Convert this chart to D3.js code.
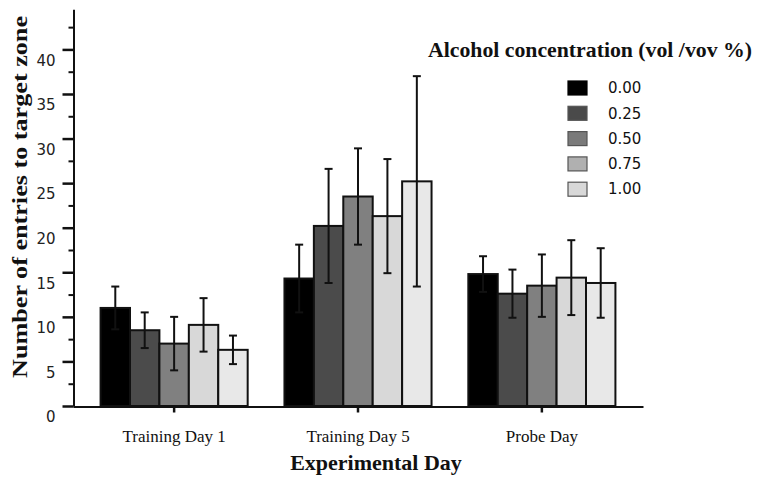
<!DOCTYPE html>
<html>
<head>
<meta charset="utf-8">
<script src="https://cdn.jsdelivr.net/npm/d3@7"></script>
<style>
  body { margin: 0; background: #fff; }
  svg { display: block; }
</style>
</head>
<body>
<svg id="chart" width="761" height="480"></svg>
<script>
// ---- data ----
const days = ["Training Day 1", "Training Day 5", "Probe Day"];
const concentrations = ["0.00", "0.25", "0.50", "0.75", "1.00"];
const meanDay1  = [11.0, 8.5, 7.0, 9.1, 6.3];
const errDay1   = [2.4, 2.0, 3.0, 3.0, 1.6];
const meanDay5  = [14.3, 20.2, 23.5, 21.3, 25.2];
const errDay5   = [3.8, 6.4, 5.4, 6.4, 11.8];
const meanProbe = [14.8, 12.6, 13.5, 14.4, 13.8];
const errProbe  = [2.0, 2.7, 3.5, 4.2, 3.9];
const majorTicks = [0, 5, 10, 15, 20, 25, 30, 35, 40];
const minorTicks = [2.5, 7.5, 12.5, 17.5, 22.5, 27.5, 32.5, 37.5, 42.5];
const barColors = ["#000000", "#4b4b4b", "#808080", "#d8d8d8", "#e8e8e8"];
const legendColors = ["#000000", "#4a4a4a", "#7a7a7a", "#b0b0b0", "#d8d8d8"];

const means = [meanDay1, meanDay5, meanProbe];
const errs = [errDay1, errDay5, errProbe];
const rows = [];
days.forEach((d, i) => concentrations.forEach((c, j) =>
  rows.push({day: d, conc: c, j: j, mean: means[i][j], err: errs[i][j]})));

// ---- layout ----
const svg = d3.select("#chart");
const x0 = d3.scaleBand().domain(days).range([73, 643]).paddingInner(0.2).paddingOuter(0.15);
const x1 = d3.scaleBand().domain(concentrations).range([0, x0.bandwidth()]);
const y = d3.scaleLinear().domain([0, 44.5]).range([406, 9.3]);

// bars
svg.append("g").selectAll("rect").data(rows).join("rect")
  .attr("x", d => x0(d.day) + x1(d.conc))
  .attr("y", d => y(d.mean))
  .attr("width", x1.bandwidth())
  .attr("height", d => y(0) - y(d.mean))
  .attr("fill", d => barColors[d.j])
  .attr("stroke", "#111")
  .attr("stroke-width", 2);

// error bars
const eb = svg.append("g").attr("stroke", "#111").attr("stroke-width", 2);
rows.forEach(d => {
  const cx = x0(d.day) + x1(d.conc) + x1.bandwidth() / 2;
  eb.append("line").attr("x1", cx).attr("x2", cx)
    .attr("y1", y(d.mean + d.err)).attr("y2", y(d.mean - d.err));
  [d.mean + d.err, d.mean - d.err].forEach(v => {
    eb.append("line").attr("x1", cx - 4).attr("x2", cx + 4)
      .attr("y1", y(v)).attr("y2", y(v));
  });
});

// y axis
const yMajor = svg.append("g").attr("transform", "translate(73.5,0)")
  .call(d3.axisLeft(y).tickValues(majorTicks).tickSize(11).tickSizeOuter(0).tickFormat(d3.format("d")));
yMajor.select(".domain").attr("stroke", "#111").attr("stroke-width", 2);
yMajor.selectAll(".tick line").attr("stroke", "#111").attr("stroke-width", 2.5);
yMajor.selectAll(".tick text")
  .attr("x", -18).attr("dy", "1.05em")
  .attr("font-family", "DejaVu Sans, Verdana, sans-serif")
  .attr("font-size", 15).attr("fill", "#222");
const yMinor = svg.append("g").attr("transform", "translate(73.5,0)")
  .call(d3.axisLeft(y).tickValues(minorTicks).tickSize(5).tickFormat(""));
yMinor.select(".domain").remove();
yMinor.selectAll(".tick line").attr("stroke", "#111").attr("stroke-width", 2);

// x axis
const xAxis = svg.append("g").attr("transform", "translate(0,406.5)")
  .call(d3.axisBottom(x0).tickSize(6).tickSizeOuter(0));
xAxis.select(".domain").attr("stroke", "#111").attr("stroke-width", 2);
xAxis.selectAll(".tick line").attr("stroke", "#111").attr("stroke-width", 2.5);
xAxis.selectAll(".tick text")
  .attr("y", 23)
  .attr("font-family", "Liberation Serif, Times New Roman, serif")
  .attr("font-size", 17).attr("fill", "#111");

// axis titles
svg.append("text")
  .attr("x", 376).attr("y", 470)
  .attr("text-anchor", "middle")
  .attr("font-family", "Liberation Serif, Times New Roman, serif")
  .attr("font-weight", "bold").attr("font-size", 22).attr("fill", "#111")
  .text("Experimental Day");
svg.append("text")
  .attr("transform", "translate(27,197) rotate(-90)")
  .attr("text-anchor", "middle")
  .attr("font-family", "Liberation Serif, Times New Roman, serif")
  .attr("font-weight", "bold").attr("font-size", 22).attr("fill", "#111")
  .attr("textLength", 362).attr("lengthAdjust", "spacingAndGlyphs")
  .text("Number of entries to target zone");

// legend
svg.append("text")
  .attr("x", 590).attr("y", 57)
  .attr("text-anchor", "middle")
  .attr("font-family", "Liberation Serif, Times New Roman, serif")
  .attr("font-weight", "bold").attr("font-size", 21).attr("fill", "#111")
  .attr("textLength", 324).attr("lengthAdjust", "spacingAndGlyphs")
  .text("Alcohol concentration (vol /vov %)");
const leg = svg.append("g").selectAll("g").data(concentrations).join("g")
  .attr("transform", (d, i) => `translate(568,${81 + i * 25.3})`);
leg.append("rect").attr("width", 19).attr("height", 14)
  .attr("fill", (d, i) => legendColors[i])
  .attr("stroke", (d, i) => i === 0 ? "#000" : "#555").attr("stroke-width", 1.2);
leg.append("text").attr("x", 40).attr("y", 7).attr("dy", "0.35em")
  .attr("font-family", "DejaVu Sans, Verdana, sans-serif")
  .attr("font-size", 15).attr("fill", "#111")
  .text(d => d);
</script>
</body>
</html>
